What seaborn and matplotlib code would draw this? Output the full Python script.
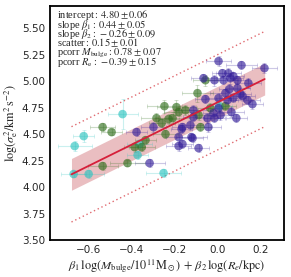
import numpy as np
import pandas as pd
import matplotlib
matplotlib.use("Agg")
import matplotlib.pyplot as plt
from matplotlib.ticker import MultipleLocator
import seaborn as sns

# ---------------- data ----------------
cyan_x = [-0.670, -0.600, -0.665, -0.623, -0.442, -0.372, -0.363, -0.251, 0.009]
cyan_y = [4.123, 4.123, 4.387, 4.481, 4.689, 4.302, 4.406, 4.132, 4.764]
cyan_xe = [0.06, 0.07, 0.08, 0.05, 0.07, 0.05, 0.06, 0.08, 0.06]
cyan_ye = [0.03, 0.04, 0.05, 0.06, 0.14, 0.04, 0.05, 0.04, 0.05]

green_x = [-0.535, -0.493, -0.535, -0.419, -0.386, -0.353, -0.335, -0.093, -0.056,
           -0.247, -0.191, -0.149, -0.181, -0.088, -0.209, -0.284, -0.260, -0.228,
           -0.242, -0.079, -0.033, 0.037]
green_y = [4.566, 4.519, 4.198, 4.226, 4.377, 4.377, 4.443, 4.887, 5.009,
           4.764, 4.755, 4.726, 4.708, 4.679, 4.651, 4.651, 4.604, 4.642,
           4.500, 4.566, 4.745, 4.764]
green_xe = [0.06, 0.05, 0.07, 0.08, 0.05, 0.06, 0.05, 0.07, 0.06,
            0.08, 0.09, 0.06, 0.07, 0.05, 0.08, 0.07, 0.06, 0.05,
            0.06, 0.05, 0.06, 0.05]
green_ye = [0.04, 0.03, 0.04, 0.03, 0.05, 0.04, 0.04, 0.08, 0.05,
            0.06, 0.07, 0.05, 0.04, 0.05, 0.06, 0.05, 0.04, 0.05,
            0.04, 0.04, 0.05, 0.04]

blue_x = [-0.377, -0.316, -0.298, -0.167, -0.181, -0.121, -0.163, -0.181, -0.088,
          0.005, 0.112, 0.219, 0.023, 0.051, 0.074, -0.065, -0.014, 0.028,
          0.060, 0.093, 0.144, -0.056, 0.005, 0.037, 0.056, 0.093, 0.107,
          0.140, 0.163, 0.074, 0.047, 0.005, -0.112, -0.019, 0.065, 0.088,
          0.014, -0.112, -0.047, -0.014, -0.126, -0.163, -0.042, -0.116, 0.117]
blue_y = [4.519, 4.226, 4.566, 4.547, 4.472, 4.472, 4.406, 4.387, 4.368,
          5.189, 5.151, 5.123, 5.075, 5.075, 5.047, 5.028, 5.009, 5.009,
          5.028, 5.009, 4.981, 4.830, 4.840, 4.887, 4.925, 4.934, 4.877,
          4.821, 4.783, 4.840, 4.821, 4.745, 4.726, 4.698, 4.708, 4.651,
          4.679, 4.660, 4.651, 4.651, 4.585, 4.566, 4.566, 4.462, 4.860]
blue_xe = [0.05, 0.07, 0.06, 0.05, 0.06, 0.07, 0.05, 0.06, 0.05,
           0.06, 0.07, 0.06, 0.05, 0.06, 0.05, 0.06, 0.05, 0.07,
           0.06, 0.05, 0.06, 0.05, 0.06, 0.07, 0.05, 0.06, 0.05,
           0.06, 0.05, 0.06, 0.05, 0.06, 0.07, 0.05, 0.06, 0.05,
           0.06, 0.05, 0.06, 0.05, 0.06, 0.05, 0.06, 0.05, 0.06]
blue_ye = [0.04, 0.04, 0.05, 0.04, 0.05, 0.04, 0.04, 0.05, 0.04,
           0.05, 0.04, 0.05, 0.04, 0.05, 0.04, 0.04, 0.05, 0.04,
           0.05, 0.04, 0.05, 0.04, 0.05, 0.04, 0.05, 0.04, 0.05,
           0.04, 0.05, 0.04, 0.05, 0.04, 0.05, 0.04, 0.05, 0.04,
           0.05, 0.04, 0.05, 0.04, 0.05, 0.04, 0.05, 0.04, 0.05]

intercept = 4.80
scatter = 0.15
fit_range = [-0.68, 0.22]

info_lines = [
    r"intercept$:\,4.80\pm0.06$",
    r"slope $\beta_1:\,0.44\pm0.05$",
    r"slope $\beta_2:\,-0.26\pm0.09$",
    r"scatter$:\,0.15\pm0.01$",
    r"pcorr $M_{\rm bulge}:\,0.78\pm0.07$",
    r"pcorr $R_{\rm e}:\,-0.39\pm0.15$",
]

groups = {
    "cyan": (cyan_x, cyan_y, cyan_xe, cyan_ye, "#2ec4c0"),
    "green": (green_x, green_y, green_xe, green_ye, "#33701f"),
    "blue": (blue_x, blue_y, blue_xe, blue_ye, "#35209a"),
}

rows = []
for name, (xs, ys, xe, ye, col) in groups.items():
    for a, b, c, d in zip(xs, ys, xe, ye):
        rows.append(dict(group=name, x=a, y=b, xe=c, ye=d))
df = pd.DataFrame(rows)
palette = {k: v[4] for k, v in groups.items()}

# ---------------- plot ----------------
sns.set_style("white")
plt.rcParams["mathtext.fontset"] = "stix"
plt.rcParams["font.family"] = ["DejaVu Sans"]

fig = plt.figure(figsize=(2.91, 2.77), dpi=100)
ax = fig.add_axes([50 / 291, 37 / 277, 234 / 291, 234 / 277])

xf = np.array(fit_range)
yf = intercept + xf
ax.fill_between(xf, yf - scatter, yf + scatter, color="#d98a8f", alpha=0.55,
                linewidth=0, zorder=1)
ax.plot(xf, yf - 3 * scatter, ls=(0, (1, 2)), color="#e06a70", lw=1.0, zorder=1)
ax.plot(xf, yf + 3 * scatter, ls=(0, (1, 2)), color="#e06a70", lw=1.0, zorder=1)

for name, sub in df.groupby("group"):
    ax.errorbar(sub["x"], sub["y"], xerr=sub["xe"], yerr=sub["ye"], fmt="none",
                ecolor=palette[name], alpha=0.25, elinewidth=0.8, capsize=1.2,
                capthick=0.6, zorder=2)

sns.scatterplot(data=df, x="x", y="y", hue="group", palette=palette, s=38,
                alpha=0.65, edgecolor="none", legend=False, ax=ax, zorder=3)

ax.plot(xf, yf, color="#d6203a", lw=1.3, zorder=4)

ax.set_xlim(-0.78, 0.31)
ax.set_ylim(3.5, 5.71)
ax.xaxis.set_major_locator(MultipleLocator(0.2))
ax.xaxis.set_minor_locator(MultipleLocator(0.05))
ax.yaxis.set_major_locator(MultipleLocator(0.25))
ax.yaxis.set_minor_locator(MultipleLocator(0.05))
ax.tick_params(which="both", direction="in", top=False, right=False,
               labelsize=7.5, width=0.8)
ax.tick_params(which="major", length=4)
ax.tick_params(which="minor", length=2)
for s in ax.spines.values():
    s.set_linewidth(1.3)
    s.set_color("black")

ax.set_xlabel(r"$\beta_1\,\log(M_{\rm bulge}/10^{11}{\rm M}_\odot)\,+\,\beta_2\,\log(R_e/{\rm kpc})$",
              fontsize=8.8, labelpad=2)
ax.set_ylabel(r"$\log(\sigma_{\rm e}^2/{\rm km}^2\,{\rm s}^{-2})$", fontsize=8.8, labelpad=1)

baselines = [0.949, 0.908, 0.868, 0.828, 0.788, 0.748]
for t, fy in zip(info_lines, baselines):
    ax.text(0.03, fy, t, transform=ax.transAxes, fontsize=7.5, va="baseline",
            ha="left", family=["Liberation Serif", "DejaVu Serif"])

fig.savefig("out.png", dpi=100)
